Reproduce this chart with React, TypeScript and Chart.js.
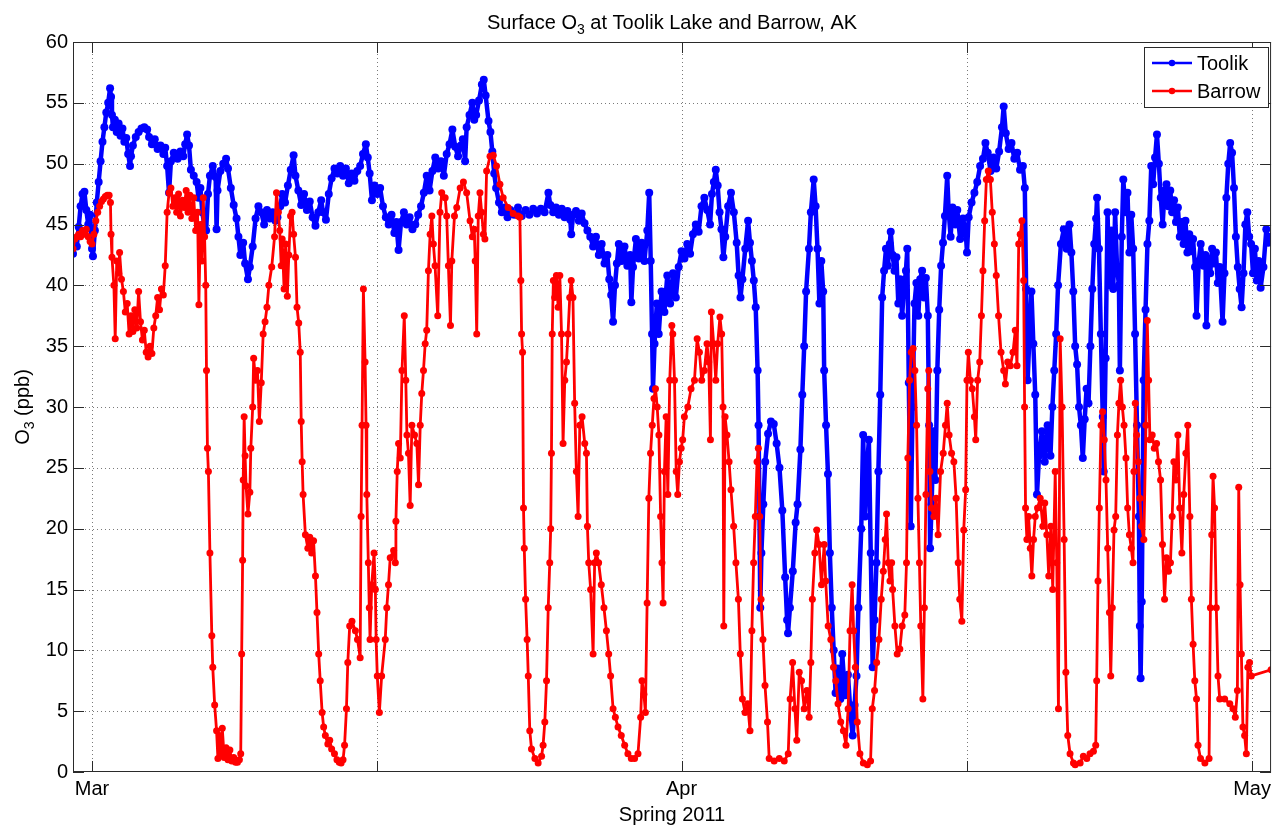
import React, { useEffect, useRef } from 'react';
import Chart from 'chart.js/auto';

// Days since 1 March 2011 (00:00) and surface O3 in ppb.
const toolik: [number, number][] = [
[-1.0,42.6],[-0.9,43.8],[-0.8,43.2],[-0.7,44.8],[-0.6,46.5],[-0.5,47.5],[-0.4,47.7],[-0.3,46.2],[-0.2,45.0],[-0.1,45.8],[0.0,43.0],[0.05,42.4],[0.15,44.5],[0.25,46.8],[0.35,48.5],[0.45,50.2],[0.55,51.8],[0.65,53.0],[0.75,54.2],[0.85,55.0],[0.95,56.2],[1.0,55.5],[1.05,54.0],[1.1,53.0],[1.2,53.6],[1.3,52.6],[1.4,53.3],[1.5,52.3],[1.6,52.9],[1.7,51.8],[1.8,52.1],[1.9,50.8],[2.0,49.8],[2.05,50.6],[2.15,51.5],[2.3,52.2],[2.45,52.6],[2.6,52.9],[2.75,53.0],[2.9,52.8],[3.0,52.2],[3.15,51.6],[3.3,52.0],[3.45,51.2],[3.6,51.5],[3.75,50.8],[3.85,51.3],[3.95,49.8],[4.05,47.6],[4.15,50.2],[4.3,50.9],[4.5,50.4],[4.65,51.0],[4.8,50.6],[4.9,51.6],[5.0,52.4],[5.1,51.5],[5.2,49.5],[5.35,49.0],[5.5,48.5],[5.6,47.2],[5.7,48.0],[5.8,46.0],[5.9,45.0],[6.0,44.5],[6.1,47.5],[6.2,49.0],[6.35,49.8],[6.5,48.9],[6.55,44.6],[6.6,47.8],[6.75,49.4],[6.9,50.0],[7.05,50.4],[7.15,49.6],[7.3,48.0],[7.45,46.6],[7.6,45.5],[7.7,44.0],[7.8,42.5],[7.95,43.5],[8.05,41.8],[8.2,40.5],[8.3,41.5],[8.45,43.2],[8.6,45.5],[8.75,46.5],[8.9,46.0],[9.05,45.0],[9.2,46.2],[9.35,45.5],[9.5,46.0],[9.65,45.3],[9.75,45.6],
[9.9,46.5],[10.0,47.5],[10.15,46.8],[10.3,48.2],[10.45,49.5],[10.6,50.7],[10.7,49.0],[10.85,47.8],[11.0,46.6],[11.15,47.5],[11.3,46.2],[11.45,46.9],[11.6,45.6],[11.75,44.9],[11.9,46.0],[12.05,47.0],[12.15,46.0],[12.3,45.4],[12.45,47.5],[12.6,48.8],[12.75,49.6],[12.9,49.2],[13.05,49.8],[13.2,49.0],[13.35,49.6],[13.5,48.4],[13.65,49.2],[13.8,48.6],[13.95,49.4],[14.1,49.8],[14.25,50.8],[14.4,51.6],[14.5,50.5],[14.6,49.2],[14.72,47.0],[14.85,48.2],[15.0,47.5],[15.15,48.0],[15.3,46.5],[15.45,45.6],[15.6,45.0],[15.75,45.8],[15.9,44.3],[16.0,45.2],[16.12,42.9],[16.25,45.2],[16.4,46.0],[16.55,45.0],[16.7,45.6],[16.85,44.6],[17.0,45.0],[17.15,45.8],[17.3,46.5],[17.45,47.6],[17.6,49.0],[17.75,47.8],[17.9,49.4],[18.05,50.5],[18.2,49.6],[18.35,50.2],[18.5,49.0],[18.65,50.8],[18.8,51.6],[18.95,52.8],[19.1,51.4],[19.25,50.6],[19.4,51.5],[19.5,52.0],[19.62,50.2],[19.7,53.0],[19.85,54.0],[20.0,55.0],[20.1,53.6],
[20.2,54.0],[20.35,55.2],[20.5,56.5],[20.6,56.9],[20.7,55.6],[20.85,53.5],[20.95,52.6],[21.05,51.0],[21.15,49.2],[21.25,48.0],[21.4,46.8],[21.55,46.0],[21.7,46.4],[21.85,45.6],[22.0,46.2],[22.2,45.8],[22.4,46.4],[22.6,45.7],[22.8,46.2],[23.0,45.8],[23.2,46.3],[23.4,45.9],[23.6,46.3],[23.8,46.0],[24.0,47.6],[24.1,46.6],[24.25,46.0],[24.4,46.4],[24.55,45.8],[24.7,46.3],[24.85,45.6],[25.0,46.1],[25.15,45.4],[25.2,44.2],[25.3,45.8],[25.45,46.1],[25.6,45.3],[25.75,45.9],[25.9,45.1],[26.05,44.5],[26.2,44.0],[26.35,43.2],[26.5,44.0],[26.65,42.5],[26.8,43.4],[26.95,41.8],[27.1,42.5],[27.2,40.5],[27.3,39.2],[27.4,37.0],[27.5,40.0],[27.6,41.8],[27.7,43.4],[27.85,42.0],[28.0,43.2],[28.15,41.6],[28.3,42.5],[28.36,38.6],[28.45,41.5],[28.6,43.8],[28.75,42.2],[28.9,43.5],[29.05,42.0],[29.2,44.5],[29.3,47.6],[29.38,42.0],[29.45,36.0],[29.5,31.5],[29.58,35.2],[29.7,38.5],[29.8,36.0],[29.95,39.5],[30.1,37.8],[30.25,40.8],[30.4,38.5],[30.55,41.0],[30.7,39.0],
[30.85,41.5],[31.0,42.8],[31.15,42.2],[31.3,43.4],[31.45,42.6],[31.6,44.2],[31.75,45.0],[31.9,44.4],[32.05,46.5],[32.2,47.2],[32.35,46.2],[32.5,45.0],[32.6,47.5],[32.7,48.5],[32.8,49.5],[32.9,48.2],[33.0,46.0],[33.1,44.6],[33.2,42.3],[33.3,44.0],[33.45,46.5],[33.6,47.6],[33.75,46.0],[33.9,43.5],[34.0,40.8],[34.1,39.0],[34.2,40.5],[34.35,43.0],[34.5,45.3],[34.6,43.5],[34.7,42.0],[34.8,40.4],[34.9,38.2],[35.0,33.0],[35.05,28.5],[35.1,21.0],[35.14,13.5],[35.2,18.0],[35.3,22.0],[35.4,25.5],[35.55,27.8],[35.7,28.8],[35.85,28.6],[36.0,27.0],[36.15,25.0],[36.3,21.5],[36.45,16.0],[36.55,12.5],[36.6,11.4],[36.7,13.5],[36.85,16.5],[37.0,20.5],[37.1,22.0],[37.25,26.5],[37.35,31.0],[37.45,35.0],[37.55,39.5],[37.7,43.0],[37.8,46.0],[37.95,48.7],[38.05,46.5],[38.15,43.0],[38.25,38.5],[38.35,42.0],[38.45,39.5],[38.5,33.0],[38.6,28.5],[38.7,24.5],[38.8,18.0],[38.9,13.5],[39.0,10.0],[39.1,6.5],[39.2,8.5],[39.35,6.0],[39.45,9.7],[39.6,6.3],[39.75,8.0],[39.9,4.5],[40.0,3.0],[40.1,5.5],[40.2,7.9],[40.3,13.5],[40.45,20.0],[40.55,27.7],[40.65,21.0],[40.75,25.0],[40.85,27.3],[40.95,18.0],[41.05,8.6],[41.15,12.5],[41.25,17.2],[41.35,24.7],[41.45,31.0],[41.55,39.0],[41.65,41.2],[41.75,43.0],[41.85,41.6],[41.95,43.4],[42.0,44.4],[42.1,42.5],[42.2,41.2],[42.3,42.3],[42.4,38.5],[42.5,40.5],[42.6,37.5],[42.7,39.8],[42.8,41.2],[42.87,43.0],[42.95,32.0],[43.05,20.2],[43.15,30.0],[43.25,38.5],[43.35,40.2],[43.45,37.5],[43.55,40.5],[43.65,41.2],[43.75,39.0],[43.85,40.6],[43.95,37.5],[44.02,28.5],[44.07,18.4],[44.15,22.0],[44.25,28.0],[44.35,24.0],[44.45,33.0],[44.55,38.0],[44.65,41.6],[44.75,43.5],[44.85,45.7],[44.97,49.0],[45.05,46.0],[45.15,44.0],[45.25,46.4],[45.4,45.0],[45.5,46.2],[45.65,43.8],[45.8,45.5],[45.95,44.2],[46.01,42.7],[46.1,45.6],[46.25,46.8],[46.4,47.6],[46.55,48.5],[46.7,49.8],[46.85,50.4],[46.98,51.7],[47.1,50.9],[47.25,49.4],[47.4,50.5],[47.55,49.6],[47.7,51.0],[47.85,53.0],[47.94,54.7],[48.05,52.5],[48.2,51.2],[48.35,51.7],[48.5,50.4],[48.65,50.9],[48.8,49.5],[48.95,49.8],[49.05,48.0],[49.12,39.7],[49.2,32.2],[49.3,36.0],[49.4,39.5],[49.5,35.2],[49.6,31.0],[49.69,22.8],[49.8,26.0],[49.95,28.0],[50.1,25.5],[50.25,28.5],[50.4,26.0],[50.5,30.0],[50.6,33.0],[50.7,36.0],[50.8,40.0],[50.95,43.4],[51.1,44.6],[51.25,43.0],[51.4,45.0],[51.5,42.7],[51.6,39.5],[51.7,35.0],[51.8,33.5],[51.9,30.0],[52.0,28.5],[52.1,25.8],
[52.2,29.0],[52.3,31.5],[52.4,30.3],[52.5,35.0],[52.6,39.7],[52.7,43.4],[52.8,45.5],[52.85,47.2],[52.95,43.0],[53.05,36.0],[53.15,29.2],[53.2,24.7],[53.3,34.0],[53.4,46.0],[53.5,40.0],[53.6,44.5],[53.7,39.7],[53.8,46.0],[53.9,41.5],[54.0,40.0],[54.05,33.0],[54.15,44.0],[54.23,48.7],[54.35,46.0],[54.45,47.6],[54.55,42.7],[54.65,45.8],[54.75,43.0],[54.85,36.0],[54.95,28.5],[55.05,21.0],[55.1,12.0],[55.14,7.7],[55.2,14.0],[55.3,32.2],[55.4,38.0],[55.5,43.4],[55.6,45.3],[55.7,49.8],[55.8,48.3],[55.9,50.5],[56.0,52.4],[56.1,50.0],[56.2,47.2],[56.3,45.0],[56.4,47.8],[56.5,48.3],[56.6,46.5],[56.7,47.8],[56.8,46.0],[56.9,47.0],[57.0,45.2],[57.1,46.4],[57.2,44.0],[57.3,45.2],[57.4,43.4],[57.5,45.3],[57.6,42.7],[57.7,44.2],[57.8,42.8],[57.9,43.8],[58.0,41.5],[58.08,37.5],[58.2,42.0],[58.3,43.4],[58.45,41.6],[58.55,42.5],[58.6,36.7],[58.7,42.2],[58.8,41.0],[58.9,43.0],[59.0,41.8],[59.1,42.7],[59.2,40.2],[59.3,41.5],[59.45,37.0],[59.55,41.0],[59.65,47.2],[59.75,50.0],[59.85,51.7],[59.95,50.9],[60.05,48.0],[60.15,44.0],[60.25,41.5],[60.35,39.7],[60.45,38.2],[60.55,41.0],[60.65,45.0],[60.75,46.0],[60.85,44.0],[60.95,43.4],[61.05,41.0],[61.15,43.0],[61.25,40.4],[61.35,42.0],[61.45,39.8],[61.6,41.5],[61.75,44.6],[61.85,43.5],[61.95,44.0]
];

const barrow: [number, number][] = [
[-1.0,43.0],[-0.9,43.8],[-0.8,44.0],[-0.7,44.2],[-0.6,44.0],[-0.5,44.5],[-0.4,44.2],[-0.3,44.6],[-0.2,44.0],[-0.1,43.6],[0.0,43.4],[0.1,44.2],[0.2,45.3],[0.3,46.0],[0.4,46.5],[0.5,46.9],[0.6,47.1],[0.7,47.3],[0.8,47.4],[0.9,47.4],[0.97,46.8],[1.0,44.2],[1.05,42.3],[1.15,40.0],[1.22,35.6],[1.3,42.0],[1.4,41.0],[1.45,42.7],[1.55,40.5],[1.65,39.5],[1.75,37.8],[1.85,38.5],[1.95,36.0],[2.05,37.5],[2.15,36.2],[2.25,38.0],[2.35,36.5],[2.45,39.5],[2.55,37.0],[2.65,35.5],[2.75,36.3],[2.85,34.5],[2.95,34.1],[3.05,35.0],[3.15,34.4],[3.25,36.5],[3.35,37.5],[3.45,39.0],[3.55,38.0],[3.65,39.7],[3.75,39.2],[3.85,41.6],[3.95,46.0],[4.05,47.6],[4.15,48.0],[4.25,46.5],[4.35,47.2],[4.45,46.0],[4.55,47.5],[4.65,45.7],[4.75,47.0],[4.85,46.4],[4.95,47.8],[5.05,46.0],[5.15,47.4],[5.25,45.5],[5.35,47.2],[5.45,44.5],[5.55,46.0],[5.62,38.4],[5.7,45.0],[5.78,42.0],[5.85,47.2],[5.92,44.0],[5.98,40.0],[6.02,33.0],[6.07,26.6],[6.12,24.7],[6.2,18.0],[6.3,11.2],[6.35,8.6],[6.45,5.5],[6.55,3.4],[6.62,1.1],[6.7,3.0],[6.78,1.5],[6.85,3.6],[6.95,1.2],[7.05,2.0],[7.15,1.0],[7.25,1.8],[7.35,0.9],[7.45,1.2],[7.55,0.8],[7.65,0.8],[7.75,1.0],[7.82,1.5],[7.87,9.7],[7.92,17.4],[7.95,24.0],[8.0,29.2],[8.05,26.0],[8.1,23.5],[8.2,21.2],[8.3,23.0],[8.35,26.6],[8.45,30.0],[8.5,34.0],[8.6,32.2],[8.7,33.0],[8.8,28.8],[8.9,32.0],[9.0,36.0],[9.1,37.0],[9.2,38.2],[9.3,40.0],[9.45,41.5],[9.6,44.0],[9.7,47.6],
[9.8,46.0],[9.87,44.5],[9.95,41.6],[10.0,43.8],[10.1,39.7],[10.18,43.4],[10.27,39.1],[10.35,42.5],[10.44,45.7],[10.52,46.0],[10.6,44.2],[10.7,42.3],[10.78,38.2],[10.87,36.9],[10.95,34.5],[11.0,28.8],[11.05,25.5],[11.1,22.8],[11.22,19.5],[11.35,18.4],[11.45,19.3],[11.55,18.0],[11.65,19.0],[11.75,16.1],[11.83,13.1],[11.92,9.7],[12.0,7.5],[12.1,4.9],[12.18,3.7],[12.27,3.0],[12.4,2.3],[12.5,2.6],[12.6,1.9],[12.75,1.5],[12.88,1.0],[13.0,0.8],[13.1,0.75],[13.2,1.0],[13.28,2.2],[13.38,5.2],[13.45,9.0],[13.55,12.0],[13.67,12.4],[13.85,11.6],[13.96,10.9],[14.1,9.4],[14.15,21.0],[14.2,28.5],[14.27,39.7],[14.36,33.7],[14.41,28.5],[14.45,22.8],[14.53,17.2],[14.58,13.5],[14.62,10.9],[14.71,15.4],[14.83,18.0],[14.9,15.0],[14.94,10.9],[15.0,7.9],[15.11,4.9],[15.23,7.9],[15.42,10.9],[15.5,13.5],[15.59,15.4],[15.68,17.6],[15.86,18.2],[15.95,17.2],[15.98,20.6],[16.05,24.7],[16.12,27.0],[16.21,25.8],[16.3,33.0],[16.42,37.5],[16.5,32.2],[16.56,27.7],[16.64,26.2],[16.73,21.9],[16.82,28.5],[16.96,27.7],[17.08,27.0],[17.17,23.6],[17.26,28.5],[17.34,31.1],[17.43,33.0],[17.52,35.2],[17.6,36.3],[17.69,41.2],[17.78,44.2],[17.87,45.7],[17.95,43.4],[18.04,41.6],[18.18,37.5],[18.3,46.0],[18.39,47.6],[18.57,47.2],[18.65,45.7],[18.74,41.6],[18.85,36.7],[18.92,42.0],[19.06,45.7],[19.18,46.4],[19.36,48.0],[19.53,48.5],[19.7,47.6],[19.88,45.3],[20.0,44.0],[20.1,44.6],[20.15,42.0],[20.23,36.0],[20.31,45.7],[20.4,47.6],[20.49,46.0],[20.58,44.2],[20.66,43.8],[20.75,49.4],[20.93,50.6],[21.1,50.7],[21.27,49.8],[21.45,48.3],[21.62,47.2],[21.88,46.4],[22.15,45.9],[22.4,45.7],[22.5,45.6],[22.55,40.4],[22.59,36.0],[22.64,34.5],[22.69,21.7],[22.73,18.4],[22.8,14.2],[22.88,10.9],[22.94,7.9],[23.02,3.4],[23.11,1.9],[23.29,1.1],[23.46,0.75],[23.64,1.3],[23.72,2.2],[23.81,4.1],[23.9,7.5],[23.99,13.5],[24.07,17.2],[24.12,20.0],[24.16,26.2],[24.2,36.0],[24.26,40.4],[24.33,39.0],[24.42,40.8],[24.51,38.2],[24.6,40.8],[24.69,36.0],[24.77,27.0],[24.86,32.2],[24.95,33.7],[25.03,36.0],[25.12,39.0],[25.2,40.4],[25.29,39.0],[25.38,30.3],[25.47,24.7],[25.56,21.0],[25.65,28.5],[25.77,29.2],[25.91,27.0],[26.0,26.2],[26.05,20.2],[26.12,17.2],[26.22,15.0],[26.35,9.7],[26.43,17.2],[26.52,18.0],[26.64,17.2],[26.78,15.4],[26.92,13.5],[27.05,11.6],[27.17,9.7],[27.27,7.9],[27.4,5.2],[27.52,4.5],[27.66,3.7],[27.83,3.0],[28.01,2.2],[28.18,1.5],[28.36,1.1],[28.53,1.1],[28.71,1.5],[28.85,4.5],[28.92,7.5],[29.02,6.4],[29.1,4.9],[29.19,13.9],[29.28,22.5],[29.37,26.2],[29.46,28.5],[29.55,30.7],[29.63,31.5],[29.72,30.0],[29.81,27.7],[29.9,21.0],[29.97,17.2],[30.03,13.9],[30.1,24.7],[30.19,29.2],[30.28,22.8],[30.38,32.2],[30.49,36.7],[30.54,36.0],[30.63,32.2],[30.72,24.7],[30.8,22.8],[30.89,25.5],[30.98,26.6],[31.06,27.3],[31.15,29.2],[31.33,30.0],[31.5,31.5],[31.68,32.2],[31.82,35.6],[31.94,34.5],[32.06,32.2],[32.2,33.0],[32.34,35.2],[32.43,33.7],[32.52,27.3],[32.57,37.8],[32.69,35.2],[32.8,32.2],[32.9,35.2],[33.02,37.4],[33.11,36.0],[33.18,30.0],[33.22,12.0],[33.29,29.2],[33.39,27.7],[33.5,25.5],[33.6,23.2],[33.74,20.2],[33.86,17.2],[33.99,14.2],[34.09,9.7],[34.2,6.0],[34.34,4.9],[34.48,5.6],[34.6,3.4],[34.7,11.6],[34.79,17.2],[34.88,21.0],[34.97,25.5],[35.04,26.6],[35.11,21.0],[35.18,14.2],[35.28,10.9],[35.39,7.1],[35.52,4.1],[35.61,1.1],[35.87,0.9],[36.14,1.1],[36.4,0.9],[36.61,1.5],[36.71,6.0],[36.84,9.0],[36.96,5.2],[37.06,2.6],[37.19,8.2],[37.31,7.5],[37.45,5.2],[37.59,6.7],[37.71,4.5],[37.8,9.0],[37.88,14.2],[38.01,18.0],[38.11,19.9],[38.23,18.7],[38.36,15.4],[38.5,18.7],[38.58,15.7],[38.71,12.0],[38.85,10.9],[38.99,8.6],[39.11,7.5],[39.23,5.6],[39.37,4.1],[39.51,3.4],[39.65,2.2],[39.76,5.2],[39.86,11.6],[39.97,15.4],[40.05,11.6],[40.14,8.6],[40.24,4.1],[40.38,1.5],[40.56,0.75],[40.77,0.6],[40.94,0.9],[41.03,5.2],[41.15,6.7],[41.26,9.0],[41.38,10.9],[41.5,14.2],[41.61,16.5],[41.71,19.1],[41.78,21.2],[41.87,17.2],[41.96,15.7],[42.05,17.2],[42.1,15.0],[42.22,12.0],[42.34,9.7],[42.48,10.1],[42.6,12.0],[42.74,12.9],[42.83,17.2],[42.9,25.8],[42.99,32.2],[43.08,34.5],[43.18,34.8],[43.27,33.0],[43.36,28.5],[43.43,22.5],[43.51,17.2],[43.58,12.0],[43.69,6.0],[43.77,13.5],[43.85,22.8],[43.95,31.5],[44.0,33.0],[44.06,24.7],[44.14,21.7],[44.27,21.0],[44.39,22.5],[44.49,19.5],[44.62,24.7],[44.76,26.2],[44.88,28.5],[44.97,30.3],[45.07,27.7],[45.2,26.2],[45.32,25.5],[45.44,22.5],[45.55,17.2],[45.63,14.2],[45.74,12.4],[45.84,19.9],[45.94,23.2],[46.01,32.2],[46.08,34.5],[46.19,32.2],[46.29,31.5],[46.4,29.2],[46.47,27.3],[46.57,32.2],[46.68,33.7],[46.77,37.5],[46.85,41.2],[46.94,45.3],[47.03,48.7],[47.13,49.4],[47.24,48.7],[47.34,46.0],[47.45,43.4],[47.55,40.8],[47.67,37.5],[47.8,34.5],[47.94,33.0],[48.03,31.9],[48.15,33.7],[48.29,33.4],[48.43,34.5],[48.55,36.3],[48.64,33.4],[48.73,43.4],[48.81,44.2],[48.9,45.3],[48.99,40.4],[49.04,30.0],[49.09,21.7],[49.16,19.1],[49.25,21.0],[49.34,18.4],[49.42,16.1],[49.51,19.1],[49.6,21.0],[49.72,21.7],[49.86,22.5],[50.0,20.2],[50.1,22.1],[50.21,19.5],[50.31,16.1],[50.42,20.2],[50.52,15.0],[50.65,24.7],[50.73,17.2],[50.82,5.2],[50.91,35.6],[51.01,30.0],[51.12,19.1],[51.21,8.2],[51.31,3.0],[51.43,1.5],[51.61,0.75],[51.7,0.6],[51.96,0.75],[52.13,1.3],[52.31,1.1],[52.48,1.5],[52.66,1.7],[52.78,2.2],[52.83,7.5],[52.9,15.7],[52.97,21.7],[53.06,28.5],[53.14,29.6],[53.23,27.3],[53.32,24.0],[53.41,18.4],[53.5,13.1],[53.57,7.9],[53.65,13.5],[53.74,19.9],[53.83,21.0],[53.92,27.7],[54.0,30.3],[54.09,32.2],[54.18,30.0],[54.27,28.5],[54.37,25.8],[54.46,21.7],[54.55,19.5],[54.65,18.4],[54.74,17.2],[54.79,24.7],[54.86,30.3],[54.93,27.7],[55.02,25.5],[55.1,22.5],[55.19,20.2],[55.31,19.1],[55.42,28.5],[55.49,37.1],[55.56,32.2],[55.63,27.3],[55.75,27.7],[55.86,26.6],[55.98,27.0],[56.08,25.5],[56.19,24.0],[56.29,18.7],[56.4,14.2],[56.5,17.6],[56.61,16.5],[56.71,17.2],[56.8,21.0],[56.89,25.5],[56.99,24.0],[57.1,27.7],[57.2,21.7],[57.31,18.0],[57.41,22.8],[57.52,26.2],[57.62,28.5],[57.73,21.0],[57.81,14.2],[57.9,10.5],[57.99,7.5],[58.08,6.0],[58.16,2.2],[58.29,1.1],[58.52,0.75],[58.74,1.1],[58.81,13.5],[58.88,19.5],[58.95,24.3],[59.03,21.7],[59.12,13.5],[59.21,7.9],[59.3,6.0],[59.56,6.0],[59.83,5.6],[60.0,5.2],[60.12,4.5],[60.23,6.7],[60.3,23.4],[60.37,15.4],[60.44,9.7],[60.52,3.7],[60.61,3.0],[60.7,1.5],[60.78,8.6],[60.87,9.0],[60.96,7.9],[62.0,8.4]
];

const seriesNames = ['Toolik', 'Barrow'];
const seriesColors = ['#0000ff', '#ff0000'];
const yTicks = [0, 5, 10, 15, 20, 25, 30, 35, 40, 45, 50, 55, 60];
const xTickDays = [0, 15, 31, 46, 61];
const xTickLabels = ['Mar', '', 'Apr', '', 'May'];
const titleParts = [{ text: 'Surface O' }, { text: '3', sub: true }, { text: ' at Toolik Lake and Barrow, AK' }];
const yLabelParts = [{ text: 'O' }, { text: '3', sub: true }, { text: ' (ppb)' }];
const xLabelParts = [{ text: 'Spring 2011' }];

const FONT = '"Liberation Sans", Arial, Helvetica, sans-serif';

type Part = { text: string; sub?: boolean };

function drawParts(ctx: CanvasRenderingContext2D, parts: Part[], cx: number, baseY: number) {
  const main = `20px ${FONT}`;
  const sub = `14px ${FONT}`;
  let total = 0;
  const widths = parts.map((p) => {
    ctx.font = p.sub ? sub : main;
    const w = ctx.measureText(p.text).width;
    total += w;
    return w;
  });
  let x = cx - total / 2;
  ctx.textAlign = 'left';
  ctx.textBaseline = 'alphabetic';
  ctx.fillStyle = '#000';
  parts.forEach((p, i) => {
    ctx.font = p.sub ? sub : main;
    ctx.fillText(p.text, x, baseY + (p.sub ? 5 : 0));
    x += widths[i];
  });
}

const decor = {
  id: 'matlabDecor',
  beforeDatasetsDraw(chart: any) {
    const { ctx, chartArea: a, scales } = chart;
    const x = scales.x, y = scales.y;
    ctx.save();
    ctx.strokeStyle = '#7a7a7a';
    ctx.lineWidth = 1;
    ctx.setLineDash([1, 3]);
    for (const t of yTicks) {
      if (t === 0 || t === 60) continue;
      const py = Math.round(y.getPixelForValue(t)) + 0.5;
      ctx.beginPath(); ctx.moveTo(a.left, py); ctx.lineTo(a.right, py); ctx.stroke();
    }
    for (const d of xTickDays) {
      const px = Math.round(x.getPixelForValue(d)) + 0.5;
      ctx.beginPath(); ctx.moveTo(px, a.top); ctx.lineTo(px, a.bottom); ctx.stroke();
    }
    ctx.restore();
  },
  afterDatasetsDraw(chart: any) {
    const { ctx, chartArea: a, scales } = chart;
    const x = scales.x, y = scales.y;
    ctx.save();
    ctx.setLineDash([]);
    ctx.strokeStyle = '#2a2a2a';
    ctx.lineWidth = 1;
    ctx.strokeRect(a.left + 0.5, a.top + 0.5, a.right - a.left - 1, a.bottom - a.top - 1);
    const tl = 11;
    ctx.beginPath();
    for (const t of yTicks) {
      const py = Math.round(y.getPixelForValue(t)) + 0.5;
      ctx.moveTo(a.left, py); ctx.lineTo(a.left + tl, py);
      ctx.moveTo(a.right, py); ctx.lineTo(a.right - tl, py);
    }
    for (const d of xTickDays) {
      const px = Math.round(x.getPixelForValue(d)) + 0.5;
      ctx.moveTo(px, a.bottom); ctx.lineTo(px, a.bottom - tl);
      ctx.moveTo(px, a.top); ctx.lineTo(px, a.top + tl);
    }
    ctx.stroke();

    // legend box
    const lx = 1144, ly = 47, lw = 124, lh = 60;
    ctx.fillStyle = '#fff';
    ctx.fillRect(lx, ly, lw, lh);
    ctx.strokeStyle = '#2a2a2a';
    ctx.strokeRect(lx + 0.5, ly + 0.5, lw, lh);
    seriesNames.forEach((name, i) => {
      const cy = 63 + i * 28;
      ctx.strokeStyle = seriesColors[i];
      ctx.lineWidth = 2.5;
      ctx.beginPath(); ctx.moveTo(1152, cy); ctx.lineTo(1192, cy); ctx.stroke();
      ctx.fillStyle = seriesColors[i];
      ctx.beginPath(); ctx.arc(1172, cy, 3.2, 0, Math.PI * 2); ctx.fill();
      ctx.fillStyle = '#000';
      ctx.font = `20px ${FONT}`;
      ctx.textAlign = 'left';
      ctx.textBaseline = 'middle';
      ctx.fillText(name, 1197, cy + 1);
    });

    // titles
    const cx = (a.left + a.right) / 2;
    drawParts(ctx, titleParts, cx, 29);
    drawParts(ctx, xLabelParts, cx, 821);
    ctx.save();
    ctx.translate(29, (a.top + a.bottom) / 2);
    ctx.rotate(-Math.PI / 2);
    drawParts(ctx, yLabelParts, 0, 0);
    ctx.restore();
    ctx.restore();
  },
};

export default function App() {
  const ref = useRef<HTMLCanvasElement>(null);
  useEffect(() => {
    const series = [toolik, barrow];
    const lineWidths = [4.5, 2.8];
    const radii = [4, 3.5];
    const chart = new Chart(ref.current as HTMLCanvasElement, {
      type: 'line',
      data: {
        datasets: series.map((s, i) => ({
          label: seriesNames[i],
          data: s.map(([d, v]) => ({ x: d, y: v })),
          borderColor: seriesColors[i],
          backgroundColor: seriesColors[i],
          pointBackgroundColor: seriesColors[i],
          pointBorderWidth: 0,
          pointRadius: radii[i],
          pointHoverRadius: radii[i],
          borderWidth: lineWidths[i],
          borderJoinStyle: 'round',
          tension: 0,
          fill: false,
          order: i === 0 ? 2 : 1,
        })),
      },
      options: {
        animation: false,
        responsive: false,
        events: [],
        layout: { padding: { left: 0, top: 42, right: 3, bottom: 0 } },
        plugins: { legend: { display: false }, tooltip: { enabled: false }, title: { display: false } },
        scales: {
          x: {
            type: 'linear',
            min: -1,
            max: 62,
            grid: { display: false, drawTicks: false },
            border: { display: false },
            afterBuildTicks: (s: any) => { s.ticks = xTickDays.map((v) => ({ value: v })); },
            afterFit: (s: any) => { s.height = 55; },
            ticks: {
              autoSkip: false,
              maxRotation: 0,
              minRotation: 0,
              padding: 5,
              color: '#000',
              font: { family: FONT, size: 20 },
              callback: (v: any) => {
                const i = xTickDays.indexOf(Number(v));
                return i >= 0 ? xTickLabels[i] : '';
              },
            },
          },
          y: {
            type: 'linear',
            min: 0,
            max: 60,
            grid: { display: false, drawTicks: false },
            border: { display: false },
            afterBuildTicks: (s: any) => { s.ticks = yTicks.map((v) => ({ value: v })); },
            afterFit: (s: any) => { s.width = 73; },
            ticks: {
              padding: 5,
              color: '#000',
              font: { family: FONT, size: 20 },
              callback: (v: any) => String(v),
            },
          },
        },
      } as any,
      plugins: [decor],
    });
    return () => chart.destroy();
  }, []);
  return (
    <div style={{ position: 'fixed', left: 0, top: 0, width: 1276, height: 827, background: '#fff' }}>
      <canvas ref={ref} width={1276} height={827} style={{ display: 'block', width: 1276, height: 827 }} />
    </div>
  );
}
